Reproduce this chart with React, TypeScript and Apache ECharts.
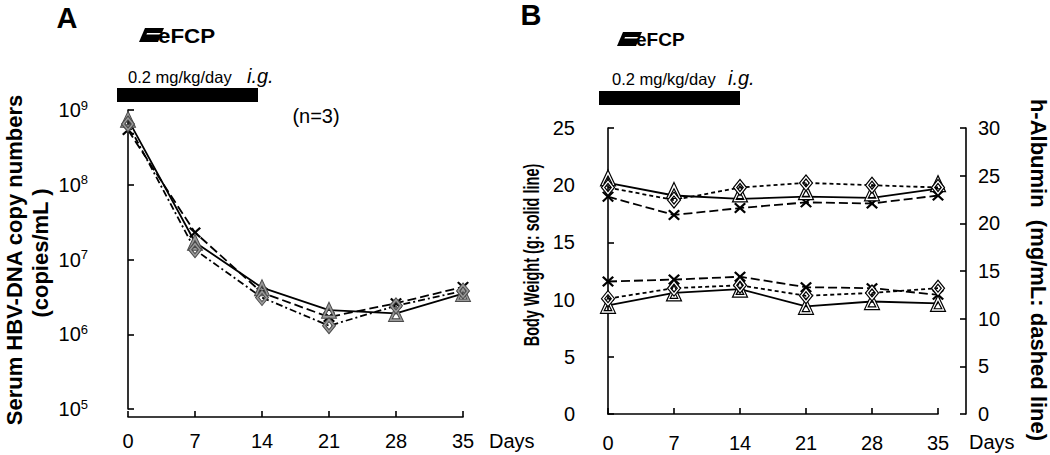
import React, { useEffect, useRef } from "react";
import * as echarts from "echarts";

// ---------- data ----------
const days = [0, 7, 14, 21, 28, 35];
const dayTicks = [0, 7, 14, 21, 28, 35];

// Panel A: serum HBV-DNA (copies/mL), three mice
const hbvTriangle = [7.5e8, 1.7e7, 4.2e6, 2.1e6, 1.9e6, 3.5e6];
const hbvDiamond = [6.5e8, 1.35e7, 3.1e6, 1.3e6, 2.4e6, 3.8e6];
const hbvCross = [5.4e8, 2.3e7, 3.6e6, 1.7e6, 2.6e6, 4.3e6];

// Panel B: body weight (g, left axis)
const bwTriangle = [20.2, 19.1, 18.8, 19.0, 18.9, 19.7];
const bwDiamond = [19.8, 18.7, 19.8, 20.2, 20.0, 19.8];
const bwCross = [19.0, 17.4, 18.0, 18.5, 18.4, 19.1];
// Panel B: h-Albumin (mg/mL, right axis)
const albTriangle = [11.4, 12.7, 13.1, 11.3, 11.8, 11.6];
const albDiamond = [12.1, 13.2, 13.5, 12.4, 12.7, 13.2];
const albCross = [13.9, 14.1, 14.4, 13.3, 13.2, 12.5];

const labelA = "A";
const labelB = "B";
const doseText = "0.2 mg/kg/day";
const routeText = "i.g.";
const nText = "(n=3)";
const daysText = "Days";
const titleA1 = "Serum HBV-DNA copy numbers";
const titleA2 = "(copies/mL )";
const titleBLeft = "Body Weight (g: solid line)";
const titleBRight = "h-Albumin  (mg/mL: dashed line)";

// ---------- styling ----------
const FONT = "'Liberation Sans', Arial, Helvetica, sans-serif";
const triPath = "path://M10,0 L20,18 L0,18 Z M10,7 L5,15 L15,15 Z";
const diaPath = "path://M8,0 L16,10 L8,20 L0,10 Z M8,5 L4,10 L8,15 L12,10 Z";
const crossPath =
  "path://M0,1.6 L1.6,0 L6,4.4 L10.4,0 L12,1.6 L7.6,6 L12,10.4 L10.4,12 L6,7.6 L1.6,12 L0,10.4 L4.4,6 Z";

const pairs = (vals: number[]) => days.map((d, i) => [d, vals[i]]);

function mkSeries(
  name: string,
  vals: number[],
  xi: number,
  yi: number,
  marker: "tri" | "dia" | "cross",
  dash: any,
  panelA: boolean,
  offset?: number[]
) {
  const symbol = marker === "tri" ? triPath : marker === "dia" ? diaPath : crossPath;
  const size =
    marker === "tri" ? [15, 16] : marker === "dia" ? [13, 16] : [12, 11];
  const itemStyle =
    marker === "cross"
      ? { color: "#000", borderWidth: 0 }
      : panelA
      ? { color: "#9a9a9a", borderColor: "#4a4a4a", borderWidth: 1 }
      : { color: "#ffffff", borderColor: "#000", borderWidth: 1.2 };
  return {
    name,
    type: "line",
    xAxisIndex: xi,
    yAxisIndex: yi,
    data: pairs(vals),
    symbol,
    symbolSize: size,
    symbolOffset: offset || [0, 0],
    showSymbol: true,
    itemStyle,
    lineStyle: { color: "#000", width: 1.8, type: dash },
    z: marker === "cross" ? 3 : 4,
  };
}

export default function App() {
  const ref = useRef<HTMLDivElement>(null);

  useEffect(() => {
    if (!ref.current) return;
    const chart = echarts.init(ref.current, undefined, { renderer: "svg" });

    const axisLine = { show: true, lineStyle: { color: "#000", width: 1.6 } };
    const tickStyle = { show: true, inside: true, length: 6, lineStyle: { color: "#000", width: 1.6 } };
    const lbl = { color: "#000", fontSize: 20, fontFamily: FONT };

    const graphic: any[] = [
      { type: "text", x: 67, y: 18, style: { text: labelA, font: `bold 29px ${FONT}`, fill: "#000", align: "center", verticalAlign: "middle" } },
      { type: "text", x: 531, y: 15, style: { text: labelB, font: `bold 29px ${FONT}`, fill: "#000", align: "center", verticalAlign: "middle" } },
      // logos
      { type: "polygon", shape: { points: [[145, 28], [164, 28], [158, 42], [139, 42]] }, style: { fill: "#000" } },
      { type: "polygon", shape: { points: [[147, 33], [161, 33], [160.4, 34.5], [146.4, 34.5]] }, style: { fill: "#fff" } },
      { type: "text", x: 158, y: 35.5, scaleX: 1.12, style: { text: "eFCP", font: `bold 20px ${FONT}`, fill: "#000", align: "left", verticalAlign: "middle" } },
      { type: "polygon", shape: { points: [[623, 32], [642, 32], [636, 46], [617, 46]] }, style: { fill: "#000" } },
      { type: "polygon", shape: { points: [[625, 37], [639, 37], [638.4, 38.5], [624.4, 38.5]] }, style: { fill: "#fff" } },
      { type: "text", x: 636, y: 39.5, scaleX: 1.0, style: { text: "eFCP", font: `bold 19px ${FONT}`, fill: "#000", align: "left", verticalAlign: "middle" } },
      // dosing annotations
      { type: "text", x: 128, y: 77, style: { text: doseText, font: `16.5px ${FONT}`, fill: "#000", align: "left", verticalAlign: "middle" } },
      { type: "text", x: 247, y: 76, style: { text: routeText, font: `italic 20px ${FONT}`, fill: "#000", align: "left", verticalAlign: "middle" } },
      { type: "rect", shape: { x: 117, y: 88, width: 141, height: 14 }, style: { fill: "#000" } },
      { type: "text", x: 612, y: 79, style: { text: doseText, font: `16.5px ${FONT}`, fill: "#000", align: "left", verticalAlign: "middle" } },
      { type: "text", x: 728, y: 78, style: { text: routeText, font: `italic 20px ${FONT}`, fill: "#000", align: "left", verticalAlign: "middle" } },
      { type: "rect", shape: { x: 599, y: 91, width: 141, height: 14 }, style: { fill: "#000" } },
      { type: "text", x: 316, y: 116, style: { text: nText, font: `20px ${FONT}`, fill: "#000", align: "center", verticalAlign: "middle" } },
      // Days
      { type: "text", x: 489, y: 441, style: { text: daysText, font: `20px ${FONT}`, fill: "#000", align: "left", verticalAlign: "middle" } },
      { type: "text", x: 969, y: 442, style: { text: daysText, font: `20px ${FONT}`, fill: "#000", align: "left", verticalAlign: "middle" } },
      // axis titles
      { type: "text", x: 14, y: 260, rotation: Math.PI / 2, style: { text: titleA1, font: `bold 22px ${FONT}`, fill: "#000", align: "center", verticalAlign: "middle" } },
      { type: "text", x: 40, y: 253, rotation: Math.PI / 2, style: { text: titleA2, font: `bold 22px ${FONT}`, fill: "#000", align: "center", verticalAlign: "middle" } },
      { type: "text", x: 531, y: 255, rotation: Math.PI / 2, scaleX: 0.66, style: { text: titleBLeft, font: `bold 22px ${FONT}`, fill: "#000", align: "center", verticalAlign: "middle" } },
      { type: "text", x: 1038, y: 270, rotation: -Math.PI / 2, style: { text: titleBRight, font: `bold 22px ${FONT}`, fill: "#000", align: "center", verticalAlign: "middle" } },
    ];

    const option: any = {
      animation: false,
      backgroundColor: "#fff",
      textStyle: { fontFamily: FONT },
      grid: [
        { left: 128, top: 110, width: 335, height: 299, containLabel: false },
        { left: 608, top: 128, width: 330, height: 286, containLabel: false },
      ],
      xAxis: [
        {
          gridIndex: 0, type: "value", min: 0, max: 35, interval: 7, offset: 8,
          axisLine, axisTick: tickStyle, splitLine: { show: false },
          axisLabel: { ...lbl, margin: 14, customValues: dayTicks },
        },
        {
          gridIndex: 1, type: "value", min: 0, max: 35, interval: 7, offset: 5,
          axisLine, axisTick: tickStyle, splitLine: { show: false },
          axisLabel: { ...lbl, margin: 14, customValues: dayTicks },
        },
      ],
      yAxis: [
        {
          gridIndex: 0, type: "log", logBase: 10, min: 1e5, max: 1e9, offset: 31,
          axisLine, axisTick: tickStyle, splitLine: { show: false },
          axisLabel: {
            ...lbl, margin: 9,
            formatter: (v: number) => `{b|10}{s|${Math.round(Math.log10(v))}}`,
            rich: {
              b: { fontSize: 20, fontFamily: FONT, color: "#000" },
              s: { fontSize: 13, fontFamily: FONT, color: "#000", padding: [0, 0, 10, 0] },
            },
          },
        },
        {
          gridIndex: 1, type: "value", min: 0, max: 25, interval: 5, offset: 21,
          axisLine, axisTick: tickStyle, splitLine: { show: false },
          axisLabel: { ...lbl, margin: 12 },
        },
        {
          gridIndex: 1, type: "value", position: "right", min: 0, max: 30, interval: 5, offset: 28,
          axisLine, axisTick: tickStyle, splitLine: { show: false },
          axisLabel: { ...lbl, margin: 12 },
        },
      ],
      series: [
        mkSeries("HBV mouse 1", hbvTriangle, 0, 0, "tri", "solid", true),
        mkSeries("HBV mouse 2", hbvCross, 0, 0, "cross", [9, 4], true),
        mkSeries("HBV mouse 3", hbvDiamond, 0, 0, "dia", [7, 3, 2, 3], true),
        mkSeries("BW mouse 1", bwTriangle, 1, 1, "tri", "solid", false, [0, -5]),
        mkSeries("BW mouse 2", bwCross, 1, 1, "cross", [9, 4], false),
        mkSeries("BW mouse 3", bwDiamond, 1, 1, "dia", [4, 3], false),
        mkSeries("hAlb mouse 1", albTriangle, 1, 2, "tri", "solid", false),
        mkSeries("hAlb mouse 2", albCross, 1, 2, "cross", [9, 4], false),
        mkSeries("hAlb mouse 3", albDiamond, 1, 2, "dia", [4, 3], false),
      ],
      graphic,
    };

    chart.setOption(option);
    return () => chart.dispose();
  }, []);

  return (
    <div
      ref={ref}
      style={{ position: "fixed", left: 0, top: 0, width: 1050, height: 455, background: "#fff" }}
    />
  );
}
